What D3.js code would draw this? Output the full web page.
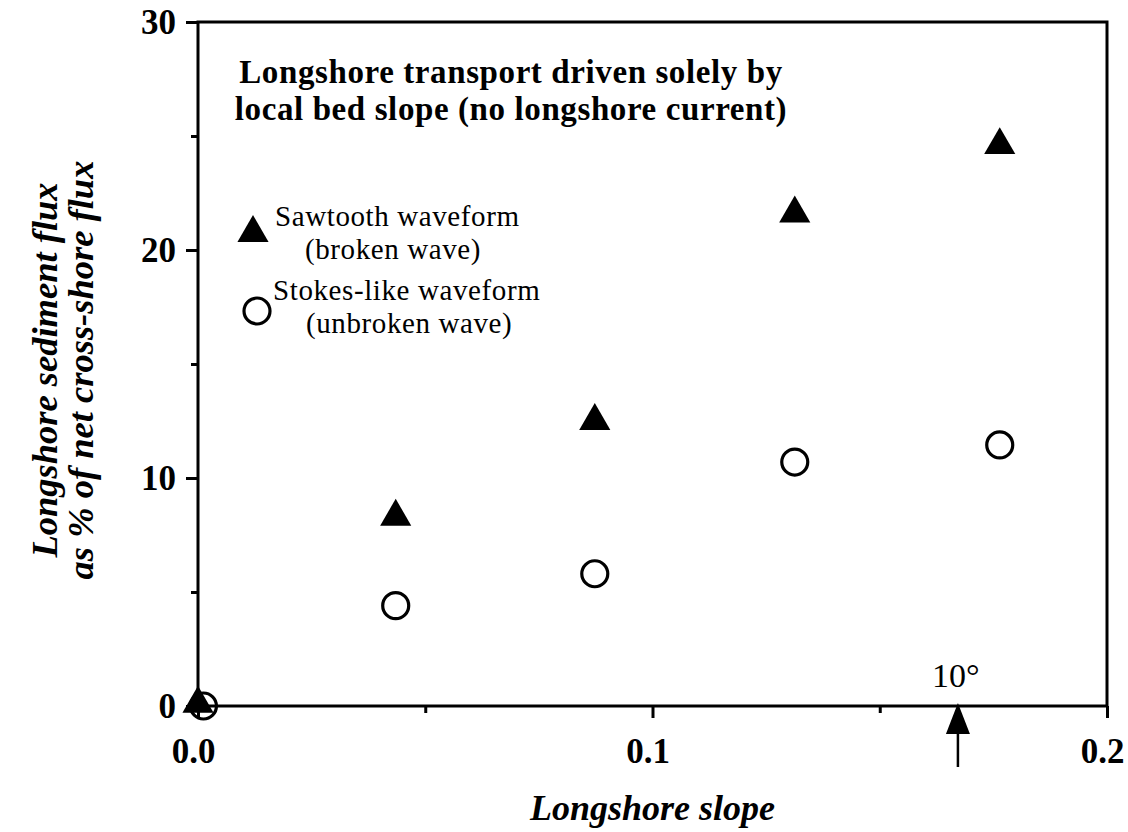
<!DOCTYPE html>
<html>
<head>
<meta charset="utf-8">
<script src="https://cdn.jsdelivr.net/npm/d3@7"></script>
<style>
  body { margin: 0; background: #fff; }
  svg text { font-family: "Liberation Serif", "Times New Roman", serif; fill: #000; }
</style>
</head>
<body>
<svg id="chart"></svg>
<script>
// slopes (tan of 0, 2.5, 5, 7.5, 10 degrees)
const sawSlope = [0.0, 0.0435, 0.0873, 0.1313, 0.1764]
const sawFlux = [0.1, 8.3, 12.5, 21.6, 24.6]
const stokesSlope = [0.0012, 0.0435, 0.0873, 0.1313, 0.1764]
const stokesFlux = [0.0, 4.4, 5.8, 10.7, 11.45]
const xTicks = [0.0, 0.1, 0.2]
const xMinor = [0.05, 0.15]
const yTicks = [0, 10, 20, 30]
const yMinor = [5, 15, 25]
const arrowSlope = 0.1672

const width = 1128
const height = 832
const margin = { left: 198, right: 21, top: 22, bottom: 126 }

const svg = d3.select('#chart')
    .attr('width', width)
    .attr('height', height)

const x = d3.scaleLinear()
    .domain([0, 0.2])
    .range([margin.left, width - margin.right])
const y = d3.scaleLinear()
    .domain([0, 30])
    .range([height - margin.bottom, margin.top])

// frame
svg.append('rect')
    .attr('x', x(0))
    .attr('y', y(30))
    .attr('width', x(0.2) - x(0))
    .attr('height', y(0) - y(30))
    .attr('fill', 'none')
    .attr('stroke', 'black')
    .attr('stroke-width', 3)

// axes
const xAxis = svg.append('g')
    .attr('transform', 'translate(0,' + y(0) + ')')
    .call(d3.axisBottom(x).tickValues(xTicks).tickFormat(d3.format('.1f')).tickSize(12).tickPadding(20))
svg.append('g')
    .attr('transform', 'translate(0,' + y(0) + ')')
    .call(d3.axisBottom(x).tickValues(xMinor).tickFormat('').tickSize(7))
const yAxis = svg.append('g')
    .attr('transform', 'translate(' + x(0) + ',0)')
    .call(d3.axisLeft(y).tickValues(yTicks).tickSize(12).tickPadding(10))
svg.append('g')
    .attr('transform', 'translate(' + x(0) + ',0)')
    .call(d3.axisLeft(y).tickValues(yMinor).tickFormat('').tickSize(7))

svg.selectAll('.domain').remove()
svg.selectAll('.tick line').attr('stroke', 'black').attr('stroke-width', 3)
svg.selectAll('.tick text')
    .style('font-family', '"Liberation Serif", serif')
    .style('font-weight', 'bold')
    .style('font-size', '35px')
    .attr('fill', 'black')
xAxis.selectAll('.tick text').attr('dx', -5)

// points
const tri = d3.symbol().type(d3.symbolTriangle).size(420)

svg.append('g')
    .selectAll('path')
    .data(sawSlope)
    .join('path')
    .attr('d', tri)
    .attr('transform', (d, i) => 'translate(' + x(d) + ',' + y(sawFlux[i]) + ')')
    .attr('fill', 'black')

svg.append('g')
    .selectAll('circle')
    .data(stokesSlope)
    .join('circle')
    .attr('cx', d => x(d))
    .attr('cy', (d, i) => y(stokesFlux[i]))
    .attr('r', 13)
    .attr('fill', 'none')
    .attr('stroke', 'black')
    .attr('stroke-width', 3.2)

// 10 degree arrow
const ax = x(arrowSlope)
const ay = y(0)
svg.append('line')
    .attr('x1', ax).attr('x2', ax)
    .attr('y1', ay + 20).attr('y2', ay + 61)
    .attr('stroke', 'black')
    .attr('stroke-width', 2.5)
svg.append('path')
    .attr('d', 'M' + ax + ',' + (ay - 3) + 'L' + (ax + 12) + ',' + (ay + 28) + 'L' + (ax - 12) + ',' + (ay + 28) + 'Z')
    .attr('fill', 'black')
svg.append('text')
    .attr('x', ax - 2)
    .attr('y', ay - 19)
    .attr('text-anchor', 'middle')
    .style('font-size', '34px')
    .text('10°')

// title
const title = svg.append('text')
    .style('font-weight', 'bold')
    .style('font-size', '33px')
    .style('letter-spacing', '0.6px')
    .attr('text-anchor', 'middle')
title.append('tspan').attr('x', 511).attr('y', 83).text('Longshore transport driven solely by')
title.append('tspan').attr('x', 511).attr('y', 120).text('local bed slope (no longshore current)')

// legend
const legend = svg.append('g')
legend.append('path')
    .attr('d', tri)
    .attr('transform', 'translate(253,233)')
    .attr('fill', 'black')
legend.append('circle')
    .attr('cx', 257).attr('cy', 311).attr('r', 13)
    .attr('fill', 'none').attr('stroke', 'black').attr('stroke-width', 3.2)
const legText = [
    { t: 'Sawtooth waveform', x: 275, y: 226 },
    { t: '(broken wave)', x: 305, y: 259 },
    { t: 'Stokes-like waveform', x: 273, y: 300 },
    { t: '(unbroken wave)', x: 306, y: 333 },
]
legend.selectAll('text')
    .data(legText)
    .join('text')
    .attr('x', d => d.x)
    .attr('y', d => d.y)
    .style('font-size', '29px')
    .style('letter-spacing', '0.6px')
    .text(d => d.t)

// axis titles
svg.append('text')
    .attr('x', x(0.1))
    .attr('y', 820)
    .attr('text-anchor', 'middle')
    .style('font-weight', 'bold')
    .style('font-style', 'italic')
    .style('font-size', '36px')
    .text('Longshore slope')

const yt = svg.append('text')
    .attr('transform', 'translate(0,370) rotate(-90)')
    .attr('text-anchor', 'middle')
    .style('font-weight', 'bold')
    .style('font-style', 'italic')
    .style('font-size', '36.5px')
yt.append('tspan').attr('x', 0).attr('y', 57).text('Longshore sediment flux')
yt.append('tspan').attr('x', 0).attr('y', 93).text('as % of net cross-shore flux')
</script>
</body>
</html>
